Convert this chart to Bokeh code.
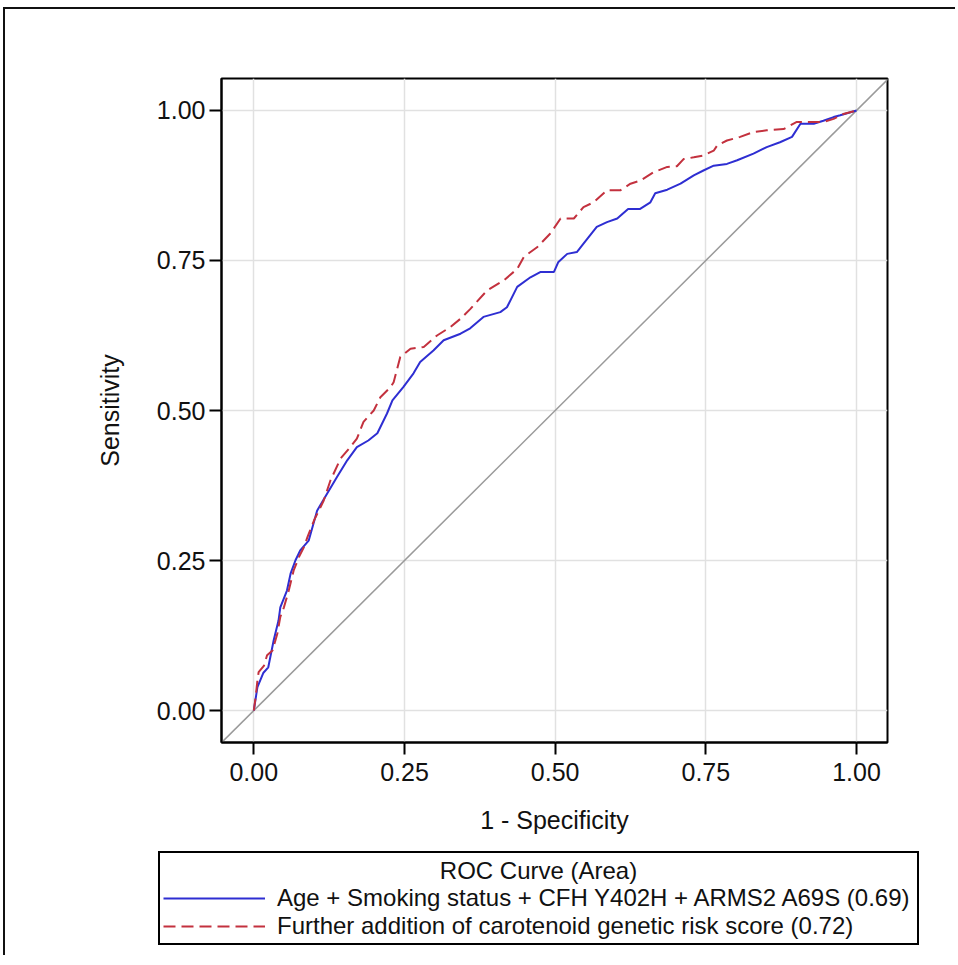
from bokeh.plotting import figure
from bokeh.layouts import column
from bokeh.models import Legend, LegendItem, FixedTicker, Range1d, NumeralTickFormatter, Label
from bokeh.embed import file_html
from bokeh.resources import INLINE

# ---- data ----
fpr_base = [0.0, 0.006, 0.016, 0.024, 0.033, 0.041, 0.044, 0.055, 0.061, 0.069, 0.077, 0.091,
            0.105, 0.122, 0.138, 0.155, 0.171, 0.190, 0.205, 0.221, 0.230, 0.248, 0.265, 0.276,
            0.298, 0.315, 0.343, 0.359, 0.381, 0.409, 0.420, 0.437, 0.459, 0.476, 0.498, 0.505,
            0.520, 0.536, 0.547, 0.569, 0.586, 0.603, 0.621, 0.641, 0.658, 0.666, 0.686, 0.708,
            0.730, 0.746, 0.763, 0.785, 0.802, 0.829, 0.851, 0.873, 0.893, 0.907, 0.929, 0.945,
            0.962, 0.973, 1.0]
tpr_base = [0.0, 0.039, 0.063, 0.072, 0.117, 0.150, 0.172, 0.200, 0.228, 0.250, 0.267, 0.283,
            0.333, 0.362, 0.389, 0.417, 0.439, 0.450, 0.462, 0.495, 0.517, 0.539, 0.562, 0.581,
            0.600, 0.617, 0.628, 0.637, 0.656, 0.664, 0.672, 0.706, 0.722, 0.731, 0.731, 0.747,
            0.761, 0.764, 0.778, 0.806, 0.814, 0.820, 0.836, 0.836, 0.847, 0.862, 0.868, 0.878,
            0.892, 0.900, 0.908, 0.911, 0.917, 0.928, 0.939, 0.947, 0.956, 0.978, 0.978, 0.983,
            0.989, 0.992, 1.0]

fpr_grs = [0.0, 0.003, 0.006, 0.008, 0.017, 0.022, 0.031, 0.039, 0.044, 0.050, 0.058, 0.066,
           0.075, 0.083, 0.089, 0.100, 0.116, 0.127, 0.144, 0.160, 0.171, 0.182, 0.199, 0.210,
           0.227, 0.232, 0.243, 0.260, 0.282, 0.304, 0.326, 0.343, 0.359, 0.387, 0.415, 0.437,
           0.448, 0.470, 0.492, 0.509, 0.531, 0.547, 0.564, 0.586, 0.608, 0.625, 0.641, 0.663,
           0.686, 0.702, 0.713, 0.730, 0.746, 0.763, 0.769, 0.785, 0.807, 0.829, 0.851, 0.879,
           0.901, 0.929, 0.945, 0.962, 0.978, 1.0]
tpr_grs = [0.0, 0.022, 0.050, 0.064, 0.075, 0.092, 0.100, 0.128, 0.156, 0.172, 0.200, 0.233,
           0.256, 0.272, 0.289, 0.317, 0.350, 0.383, 0.420, 0.439, 0.453, 0.481, 0.500, 0.522,
           0.539, 0.547, 0.589, 0.603, 0.606, 0.625, 0.639, 0.653, 0.669, 0.700, 0.717, 0.736,
           0.756, 0.772, 0.795, 0.820, 0.820, 0.839, 0.847, 0.867, 0.867, 0.878, 0.883, 0.897,
           0.906, 0.907, 0.919, 0.922, 0.925, 0.933, 0.942, 0.950, 0.956, 0.964, 0.967, 0.969,
           0.981, 0.981, 0.981, 0.986, 0.994, 1.0]

chance_x = [-0.1, 1.1]
chance_y = [-0.1, 1.1]

ticks = [0.0, 0.25, 0.5, 0.75, 1.0]
series_labels = ["Age + Smoking status + CFH Y402H + ARMS2 A69S (0.69)",
                 "Further addition of carotenoid genetic risk score (0.72)"]
legend_title = "ROC Curve (Area)"
x_title = "1 - Specificity"
y_title = "Sensitivity"

BLUE = "#2e2ed2"
RED = "#c3313e"
FONT = "Liberation Sans"
DASH = "12 6"

# ---- main ROC plot ----
p = figure(width=950, height=838,
           x_range=Range1d(-0.0536, 1.0514), y_range=Range1d(-0.0533, 1.0533),
           output_backend="svg", toolbar_location=None,
           min_border_left=216, min_border_right=68, min_border_top=69, min_border_bottom=105,
           x_axis_label=x_title, y_axis_label=y_title)
p.frame_align = False

p.background_fill_color = "white"
p.border_fill_color = "white"
p.outline_line_color = "black"
p.outline_line_width = 2

for ax in (p.xaxis[0], p.yaxis[0]):
    ax.ticker = FixedTicker(ticks=ticks)
    ax.formatter = NumeralTickFormatter(format="0.00")
    ax.axis_line_width = 2
    ax.axis_line_color = "black"
    ax.major_tick_out = 12
    ax.major_tick_in = 0
    ax.major_tick_line_width = 2
    ax.major_tick_line_color = "black"
    ax.minor_tick_line_color = None
    ax.major_label_text_font = FONT
    ax.major_label_text_font_size = "25px"
    ax.major_label_text_color = "#111"
    ax.axis_label_text_font = FONT
    ax.axis_label_text_font_size = "25px"
    ax.axis_label_text_font_style = "normal"
    ax.axis_label_text_color = "#111"

p.xaxis.major_label_standoff = 8
p.xaxis.axis_label_standoff = 22
p.yaxis.major_label_standoff = 4
p.yaxis.axis_label_standoff = 30

p.xgrid.ticker = FixedTicker(ticks=ticks)
p.ygrid.ticker = FixedTicker(ticks=ticks)
p.grid.grid_line_color = "#e1e1e1"
p.grid.grid_line_width = 1.5

p.line(chance_x, chance_y, line_color="#9a9a9a", line_width=1.5)
p.line(fpr_base, tpr_base, line_color=BLUE, line_width=2)
p.line(fpr_grs, tpr_grs, line_color=RED, line_width=2, line_dash=DASH)

# ---- legend panel below the plot ----
lg = figure(width=950, height=108, x_range=Range1d(0, 1), y_range=Range1d(0, 1),
            output_backend="svg", toolbar_location=None, min_border=0)
lg.frame_align = False
lg.axis.visible = False
lg.grid.visible = False
lg.outline_line_color = None
lg.background_fill_color = "white"
lg.border_fill_color = "white"

title_label = Label(x=533, y=85, x_units="screen", y_units="screen", text=legend_title,
                    text_align="center", text_baseline="middle",
                    text_font=FONT, text_font_size="24px", text_color="#111")
lg.add_layout(title_label)

# legend sample renderers (kept outside the visible range)
k1 = lg.line([5, 6], [5, 6], line_color=BLUE, line_width=2)
k2 = lg.line([5, 6], [5, 6], line_color=RED, line_width=2, line_dash=DASH)

legend = Legend(items=[LegendItem(label=series_labels[0], renderers=[k1]),
                       LegendItem(label=series_labels[1], renderers=[k2])],
                location=(153, 10), title=" ")
legend.margin = 0
legend.padding = 3
legend.spacing = 0
legend.glyph_width = 102
legend.glyph_height = 24
legend.label_standoff = 12
legend.label_width = 637
legend.label_text_font = FONT
legend.label_text_font_size = "24px"
legend.label_text_color = "#111"
legend.title_text_font = FONT
legend.title_text_font_size = "24px"
legend.title_text_font_style = "normal"
legend.title_standoff = 0
legend.border_line_color = "black"
legend.border_line_alpha = 1.0
legend.border_line_width = 2
legend.background_fill_alpha = 0.0
lg.add_layout(legend)

layout = column(p, lg, spacing=0)
layout.styles = {"border-top": "2px solid #111", "border-left": "2px solid #111",
                 "margin-left": "3px", "margin-top": "7px"}

open("out.html", "w").write(file_html(layout, INLINE))
